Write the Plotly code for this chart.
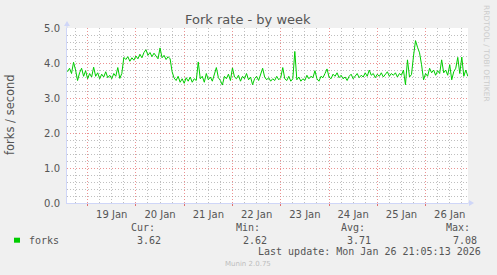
import plotly.graph_objects as go
import pandas as pd

# ---- data ----
start_time = "2026-01-18 14:00"
step = "1h"
forks = [
    3.75, 3.85, 3.70, 4.02, 3.80, 3.50, 3.72, 3.85, 3.62, 3.78,
    3.55, 3.70, 3.60, 3.88, 3.62, 3.72, 3.55, 3.68, 3.60, 3.75,
    3.58, 3.65, 3.55, 3.70, 3.62, 3.87, 3.56, 3.70, 4.16, 4.10,
    4.18, 4.05, 4.15, 4.08, 4.20, 4.12, 4.25, 4.15, 4.30, 4.38,
    4.22, 4.30, 4.18, 4.28, 4.20, 4.12, 4.43, 4.15, 4.22, 4.10,
    4.18, 4.12, 3.75, 3.57, 3.50, 3.62, 3.45, 3.55, 3.42, 3.58,
    3.48, 3.60, 3.45, 3.55, 3.50, 4.03, 3.55, 3.62, 3.45, 3.70,
    3.52, 3.60, 3.48, 3.65, 3.87, 3.58, 3.50, 3.37, 3.62, 3.55,
    3.68, 3.50, 3.86, 3.60, 3.55, 3.65, 3.48, 3.62, 3.55, 3.70,
    3.52, 3.60, 3.38, 3.55, 3.62, 3.50, 3.65, 3.85, 3.60, 3.52,
    3.58, 3.48, 3.55, 3.50, 3.62, 3.52, 3.58, 3.87, 3.55, 3.50,
    3.62, 3.48, 3.55, 4.33, 3.52, 3.60, 3.48, 3.55, 3.50, 3.65,
    3.55, 3.62, 3.58, 3.78, 3.55, 3.48, 3.62, 3.58, 3.70, 3.83,
    3.60, 3.55, 3.68, 3.62, 3.72, 3.58, 3.65, 3.55, 3.60, 3.50,
    3.62, 3.68, 3.55, 3.62, 3.70, 3.58, 3.65, 3.60, 3.72, 3.62,
    3.80, 3.65, 3.70, 3.58, 3.68, 3.62, 3.72, 3.60, 3.68, 3.75,
    3.62, 3.70, 3.65, 3.72, 3.60, 3.70, 3.65, 3.80, 3.38, 4.09,
    3.60, 3.67, 4.20, 4.64, 4.45, 4.29, 3.95, 3.52, 3.70, 3.62,
    3.85, 3.72, 3.80, 3.65, 3.78, 3.70, 4.09, 3.72, 3.80, 3.65,
    3.95, 3.52, 3.75, 3.85, 4.16, 3.70, 4.17, 3.62, 3.80, 3.62,
]
times = pd.date_range(start_time, periods=len(forks), freq=step)

x_range = ["2026-01-18 13:45", "2026-01-26 21:05:13"]
y_range = [0, 5]

title_text = "Fork rate - by week"
y_title = "forks / second"
series_name = "forks"
stat_labels = ["Cur:", "Min:", "Avg:", "Max:"]
stat_values = ["3.62", "2.62", "3.71", "7.08"]
last_update = "Last update: Mon Jan 26 21:05:13 2026"
footer = "Munin 2.0.75"
side_text = "RRDTOOL / TOBI OETIKER"

# ---- style ----
BG = "#F0F0F0"
FONT_C = "#555555"
AXIS_C = "#CFD6F8"
MAJOR_C = "rgba(230,110,110,0.75)"
MINOR_C = "rgba(170,170,170,0.75)"
LINE_C = "#00CC00"
SANS = "DejaVu Sans"
MONO = "DejaVu Sans Mono"

W, H = 497, 275
L, R, T, B = 67, 29, 28, 72
PW, PH = W - L - R, H - T - B


def px(xp):
    return (xp - L) / PW


def py(yp):
    return (H - B - yp) / PH


fig = go.Figure()
fig.add_trace(go.Scatter(x=times, y=forks, mode="lines",
                         line=dict(color=LINE_C, width=1),
                         name=series_name, showlegend=False,
                         hoverinfo="skip"))

fig.update_layout(
    width=W, height=H,
    margin=dict(l=L, r=R, t=T, b=B, pad=0),
    paper_bgcolor=BG, plot_bgcolor="#FFFFFF",
    showlegend=False,
    font=dict(family=SANS, size=10, color=FONT_C),
)

fig.update_xaxes(
    type="date", range=x_range,
    tick0="2026-01-19", dtick=86400000,
    ticklabelmode="period", tickformat="%d %b",
    showgrid=True, gridcolor=MAJOR_C, griddash="1px,2px", gridwidth=1,
    showline=True, linecolor=AXIS_C, linewidth=1,
    ticks="outside", ticklen=2, tickcolor="#E07070",
    zeroline=False,
    tickfont=dict(family=SANS, size=10, color=FONT_C),
    minor=dict(dtick=6 * 3600 * 1000, showgrid=True, gridcolor=MINOR_C,
               griddash="1px,2px", gridwidth=1, ticks=""),
)
fig.update_yaxes(
    range=y_range, dtick=1, tick0=0, tickformat=".1f",
    showgrid=True, gridcolor=MAJOR_C, griddash="1px,2px", gridwidth=1,
    showline=True, linecolor=AXIS_C, linewidth=1,
    ticks="", ticklabelstandoff=4, zeroline=False,
    tickfont=dict(family=SANS, size=10, color=FONT_C),
    minor=dict(dtick=0.2, showgrid=True, gridcolor=MINOR_C,
               griddash="1px,2px", gridwidth=1),
)

shapes = [
    # y axis arrow
    dict(type="path", xref="paper", yref="paper", xsizemode="pixel", ysizemode="pixel",
         xanchor=0, yanchor=1, path="M -3,2 L 3,2 L 0,7 Z",
         fillcolor=AXIS_C, line=dict(width=0)),
    dict(type="path", xref="paper", yref="paper", xsizemode="pixel", ysizemode="pixel",
         xanchor=0, yanchor=1, path="M 0,0 L 0,3",
         line=dict(color=AXIS_C, width=1)),
    # x axis arrow
    dict(type="path", xref="paper", yref="paper", xsizemode="pixel", ysizemode="pixel",
         xanchor=1, yanchor=0, path="M 1,-3 L 1,3 L 6,0 Z",
         fillcolor=AXIS_C, line=dict(width=0)),
    dict(type="path", xref="paper", yref="paper", xsizemode="pixel", ysizemode="pixel",
         xanchor=1, yanchor=0, path="M 0,0 L 2,0",
         line=dict(color=AXIS_C, width=1)),
    # legend colour box
    dict(type="rect", xref="paper", yref="paper", xsizemode="pixel", ysizemode="pixel",
         xanchor=0, yanchor=0, x0=14 - L, x1=20 - L, y0=(H - B) - 242.7, y1=(H - B) - 237.7,
         fillcolor=LINE_C, line=dict(width=0)),
]
fig.update_layout(shapes=shapes)

ann = []


def add(text, x, y, xanchor="center", size=10, family=MONO, color=FONT_C, angle=0):
    ann.append(dict(text=text, x=px(x), y=py(y), xref="paper", yref="paper",
                    xanchor=xanchor, yanchor="middle", showarrow=False,
                    textangle=angle, font=dict(family=family, size=size, color=color)))


add(title_text, 248, 19, size=13, family=SANS, color=FONT_C)
add(y_title, 10, 115, size=11.5, family=SANS, angle=-90)
add(side_text, 487, 53, size=7.5, family=SANS, color="#CCCCCC", angle=90)

add(series_name, 26.7, 240, xanchor="left")
stat_label_x = [143, 248, 353.3, 458.3]
stat_value_x = [149.3, 254.7, 359.3, 465]
for lab, xl in zip(stat_labels, stat_label_x):
    add(lab, xl, 227.5)
for val, xv in zip(stat_values, stat_value_x):
    add(val, xv, 240)
add(last_update, 482.7, 251.7, xanchor="right")
add(footer, 247.5, 263.7, size=7, family=SANS, color="#BDBDBD")

fig.update_layout(annotations=ann)

fig.write_html("out.html")
